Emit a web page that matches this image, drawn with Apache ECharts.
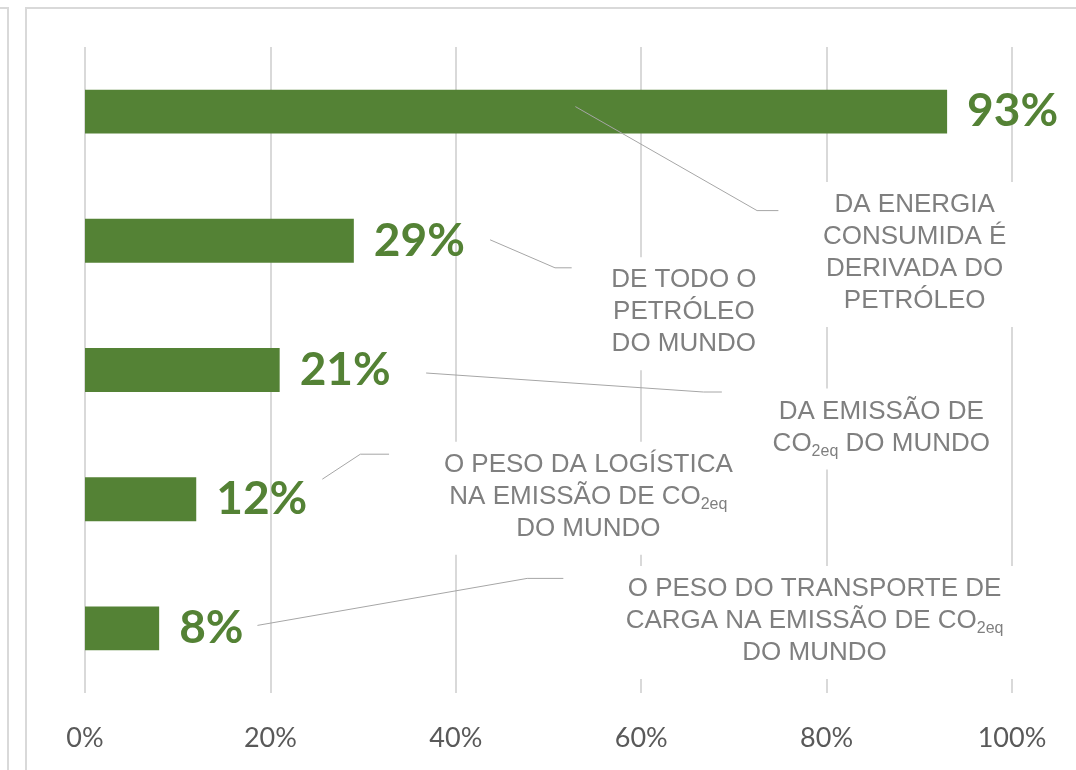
<!DOCTYPE html>
<html>
<head>
<meta charset="utf-8">
<script src="https://cdn.jsdelivr.net/npm/echarts@6/dist/echarts.min.js"></script>
<style>
  html, body { margin: 0; padding: 0; background: #fff; }
  #main { width: 1076px; height: 770px; }
</style>
</head>
<body>
<div id="main"></div>
<script>
// dados
var categorias = ['energia', 'petroleo', 'emissao', 'logistica', 'transporte'];
var valores = [93, 29, 21, 12, 8];
var xTicks = [0, 20, 40, 60, 80, 100];
var notas = [
  'DA ENERGIA\nCONSUMIDA É\nDERIVADA DO\nPETRÓLEO',
  'DE TODO O\nPETRÓLEO\nDO MUNDO',
  'DA EMISSÃO DE\nCO{sub|2eq} DO MUNDO',
  'O PESO DA LOGÍSTICA\nNA EMISSÃO DE CO{sub|2eq}\nDO MUNDO',
  'O PESO DO TRANSPORTE DE\nCARGA NA EMISSÃO DE CO{sub|2eq}\nDO MUNDO'
];

// posicao das caixas de texto (x em % do eixo, dy em px a partir do centro da barra)
var layoutNotas = [
  { x: 89.5, dy: 143, linha: [[52.9, -5], [72.5, 99], [74.8, 99]] },
  { x: 64.6, dy: 73,  linha: [[43.7, -1], [50.7, 27], [52.5, 27]] },
  { x: 85.9, dy: 59,  linha: [[36.8, 3], [66.7, 22], [68.7, 22]] },
  { x: 54.3, dy: -1,  linha: [[25.6, -20], [29.7, -45], [32.8, -45]] },
  { x: 78.7, dy: -6,  linha: [[18.6, -3], [47.7, -50], [51.6, -50]] }
];

var verde = '#548235';
var chart = echarts.init(document.getElementById('main'));

var option = {
  animation: false,
  grid: { left: 85, right: 64, top: 47, bottom: 77 },
  xAxis: {
    type: 'value',
    min: xTicks[0],
    max: xTicks[xTicks.length - 1],
    interval: 20,
    axisLine: { show: false },
    axisTick: { show: false },
    splitLine: { lineStyle: { color: '#d9d9d9', width: 2 } },
    axisLabel: {
      formatter: '{value}%',
      margin: 32,
      color: '#595959',
      fontSize: 27,
      fontFamily: 'Lato'
    }
  },
  yAxis: {
    type: 'category',
    inverse: true,
    data: categorias,
    axisLine: { show: false },
    axisTick: { show: false },
    axisLabel: { show: false }
  },
  series: [{
    type: 'bar',
    data: valores,
    barWidth: '34%',
    itemStyle: { color: verde },
    label: {
      show: true,
      position: 'right',
      distance: 20,
      formatter: '{c}%',
      color: verde,
      fontSize: 46,
      fontWeight: 'bold',
      fontFamily: 'Lato'
    }
  }]
};
chart.setOption(option);

function px(x, i, dy) {
  var p = chart.convertToPixel({ gridIndex: 0 }, [x, categorias[i]]);
  return [p[0], p[1] + dy];
}

var graficos = [
  { type: 'rect', z: 0, shape: { x: -100, y: 8, width: 108, height: 900 },
    style: { fill: 'none', stroke: '#d9d9d9', lineWidth: 2 } },
  { type: 'rect', z: 0, shape: { x: 26, y: 8, width: 1200, height: 900 },
    style: { fill: 'none', stroke: '#d9d9d9', lineWidth: 2 } }
];

layoutNotas.forEach(function (l, i) {
  var c = px(l.x, i, l.dy);
  graficos.push({
    type: 'text',
    z: 1,
    x: c[0],
    y: c[1],
    style: {
      text: notas[i],
      fill: '#7f7f7f',
      fontSize: 26,
      fontFamily: '"Liberation Sans", Arial',
      align: 'center',
      verticalAlign: 'middle',
      lineHeight: 32,
      backgroundColor: '#fff',
      padding: [7, 10, 10, 10],
      rich: {
        sub: {
          fontSize: 16,
          fontFamily: '"Liberation Sans", Arial',
          fill: '#7f7f7f',
          verticalAlign: 'bottom',
          lineHeight: 12
        }
      }
    }
  });
  graficos.push({
    type: 'polyline',
    z: 10,
    shape: { points: l.linha.map(function (p) { return px(p[0], i, p[1]); }) },
    style: { stroke: '#a6a6a6', lineWidth: 1, fill: null }
  });
});

chart.setOption({ graphic: graficos });
</script>
</body>
</html>
